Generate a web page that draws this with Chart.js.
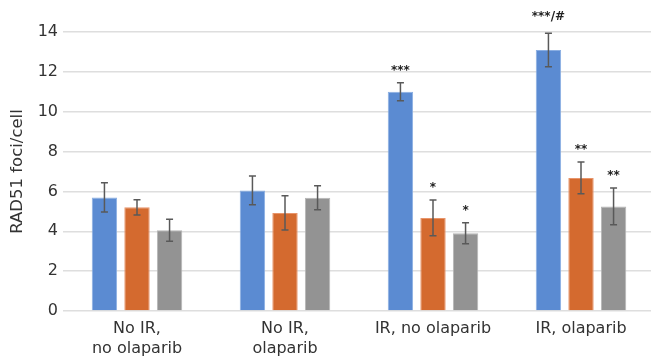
<!DOCTYPE html>
<html>
<head>
<meta charset="utf-8">
<script src="https://cdn.jsdelivr.net/npm/chart.js@4/dist/chart.umd.min.js"></script>
<style>
html,body{margin:0;padding:0;background:#fff;overflow:hidden;}
#wrap{width:660px;height:359px;}
</style>
</head>
<body>
<div id="wrap"><canvas id="c" width="660" height="359"></canvas></div>
<script>
const categories = [["No IR,", "no olaparib"], ["No IR,", "olaparib"], "IR, no olaparib", "IR, olaparib"];
const seriesA = [5.7, 6.05, 11.0, 13.1];
const seriesB = [5.2, 4.92, 4.67, 6.68];
const seriesC = [4.05, 5.68, 3.9, 5.25];
const errA = [0.73, 0.72, 0.45, 0.84];
const errB = [0.38, 0.86, 0.9, 0.8];
const errC = [0.55, 0.6, 0.53, 0.92];
const markA = ["", "", "***", "***/#"];
const markB = ["", "", "*", "**"];
const markC = ["", "", "*", "**"];
const yTicks = [0, 2, 4, 6, 8, 10, 12, 14];

const errs = [errA, errB, errC];
const marks = [markA, markB, markC];

const errorPlugin = {
  id: 'errbars',
  afterDatasetsDraw(chart) {
    const ctx = chart.ctx;
    const y = chart.scales.y;
    chart.data.datasets.forEach((ds, di) => {
      const meta = chart.getDatasetMeta(di);
      meta.data.forEach((bar, i) => {
        const v = ds.data[i];
        const e = errs[di][i];
        const x = bar.x;
        const yt = y.getPixelForValue(v + e);
        const yb = y.getPixelForValue(v - e);
        ctx.save();
        ctx.strokeStyle = '#595959';
        ctx.lineWidth = 1.5;
        ctx.beginPath();
        ctx.moveTo(x, yt); ctx.lineTo(x, yb);
        ctx.moveTo(x - 3.5, yt); ctx.lineTo(x + 3.5, yt);
        ctx.moveTo(x - 3.5, yb); ctx.lineTo(x + 3.5, yb);
        ctx.stroke();
        const m = marks[di][i];
        if (m) {
          ctx.fillStyle = '#222';
          ctx.font = 'bold 12px "DejaVu Sans"';
          ctx.textAlign = 'center';
          ctx.textBaseline = 'bottom';
          ctx.fillText(m, x, yt - (m.indexOf('#') >= 0 ? 10 : 6));
        }
        ctx.restore();
      });
    });
  }
};

new Chart(document.getElementById('c'), {
  type: 'bar',
  data: {
    labels: categories,
    datasets: [
      { data: seriesA, backgroundColor: '#5b8bd2', borderColor: '#8aaee2', borderWidth: 1 },
      { data: seriesB, backgroundColor: '#d46a2f', borderColor: '#e8946a', borderWidth: 1 },
      { data: seriesC, backgroundColor: '#939393', borderColor: '#b5b5b5', borderWidth: 1 }
    ]
  },
  options: {
    responsive: false,
    animation: false,
    datasets: { bar: { categoryPercentage: 0.66, barPercentage: 0.78 } },
    layout: { padding: { top: 32, right: 5, bottom: 0, left: 4 } },
    plugins: { legend: { display: false }, tooltip: { enabled: false } },
    scales: {
      x: {
        afterFit(scale) { scale.height = 48; },
        grid: { display: false },
        border: { display: false },
        ticks: { color: '#333', font: { family: 'DejaVu Sans', size: 16, lineHeight: 1.25 }, padding: 0, maxRotation: 0, autoSkip: false }
      },
      y: {
        min: 0, max: 14,
        afterBuildTicks(scale) { scale.ticks = yTicks.map(v => ({ value: v })); },
        afterFit(scale) { scale.width = 59; },
        grid: { color: '#dedede', lineWidth: 1.5, drawTicks: false },
        border: { display: false },
        ticks: { color: '#333', font: { family: 'DejaVu Sans', size: 16 }, padding: 5 },
        title: { display: true, text: 'RAD51 foci/cell', color: '#333', font: { family: 'DejaVu Sans', size: 16.5 }, padding: { top: 4, bottom: 0 } }
      }
    }
  },
  plugins: [errorPlugin]
});
</script>
</body>
</html>
